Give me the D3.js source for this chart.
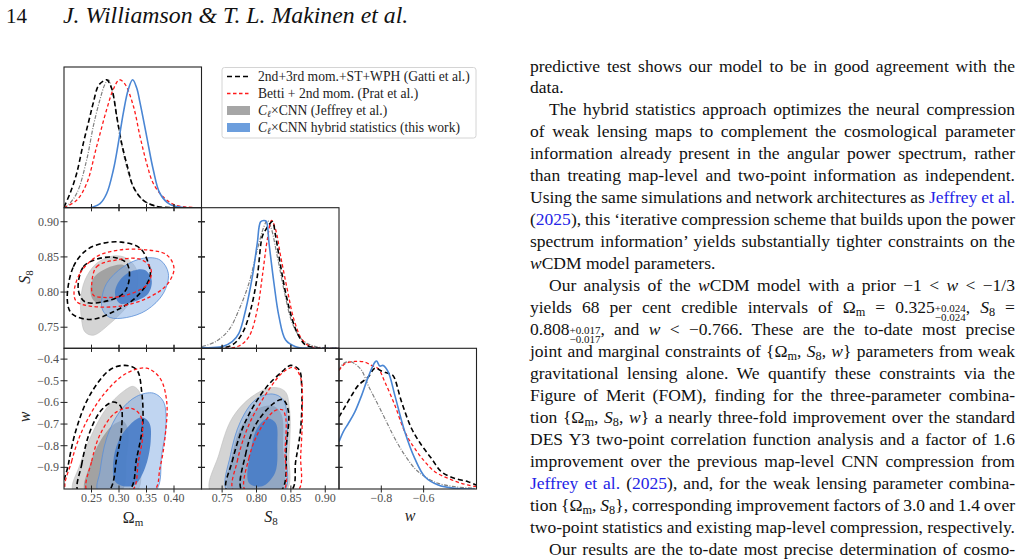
<!DOCTYPE html>
<html>
<head>
<meta charset="utf-8">
<script src="https://cdn.jsdelivr.net/npm/d3@7"></script>
<style>
body { margin: 0; background: #fff; width: 1023px; height: 560px; overflow: hidden; position: relative; font-family: "Liberation Serif", serif; }
.ln { position: absolute; display: inline-block; white-space: nowrap; font-size: 16.5px; line-height: 22px; color: #111; }
.ref { color: #2424e6; }
.sb { font-size: 0.7em; vertical-align: -0.25em; line-height: 0; }
.st { display: inline-block; vertical-align: -8px; line-height: 8.6px; font-size: 11px; text-align: left; }
.st span { display: block; }
.bl { display: inline-block; width: 0; height: 0; }
</style>
</head>
<body>
<script>
/* ranges and ticks of the three parameters */
const omDomain = [0.2, 0.45]
const s8Domain = [0.72, 0.92]
const wDomain = [-1.0, -0.35]
const omTicks = [0.25, 0.30, 0.35, 0.40]
const s8Ticks = [0.75, 0.80, 0.85, 0.90]
const wTicksY = [-0.4, -0.5, -0.6, -0.7, -0.8, -0.9]
const wTicksX = [-0.8, -0.6]

/* 1D marginals: [value, density / peak] */
const omGatti = [[0.2,0.005],[0.2109,0.111],[0.223,0.268],[0.2352,0.505],[0.2473,0.716],[0.2533,0.821],[0.2624,0.953],[0.2715,0.99],[0.2776,1.0],[0.2867,0.932],[0.2958,0.716],[0.3048,0.505],[0.317,0.295],[0.3261,0.163],[0.3442,0.058],[0.3685,0.011],[0.3988,0.0],[0.45,0]]
const omPrat = [[0.2,0],[0.223,0.058],[0.2412,0.189],[0.2594,0.479],[0.2776,0.768],[0.2897,0.926],[0.3006,1.0],[0.3109,0.966],[0.3261,0.795],[0.3382,0.558],[0.3503,0.347],[0.3624,0.189],[0.3806,0.084],[0.3988,0.026],[0.423,0.005],[0.45,0]]
const omJeffrey = [[0.2,0.003],[0.2048,0.011],[0.223,0.111],[0.2412,0.374],[0.2533,0.637],[0.2655,0.847],[0.2745,0.966],[0.2806,1.0],[0.2897,0.874],[0.3018,0.558],[0.3139,0.321],[0.3261,0.163],[0.3442,0.058],[0.3745,0.005],[0.45,0]]
const omHybrid = [[0.2,0],[0.2473,0],[0.2655,0.032],[0.2776,0.111],[0.2897,0.295],[0.2988,0.505],[0.3079,0.742],[0.317,0.926],[0.3248,1.0],[0.3321,0.937],[0.3382,0.821],[0.3503,0.558],[0.3624,0.295],[0.3745,0.111],[0.3927,0.026],[0.423,0],[0.45,0]]

const s8Gatti = [[0.72,0],[0.7404,0],[0.7647,0.026],[0.7793,0.117],[0.7914,0.3],[0.8011,0.561],[0.8084,0.875],[0.8133,0.927],[0.8182,0.966],[0.823,0.992],[0.8279,0.875],[0.8352,0.64],[0.8425,0.431],[0.8522,0.222],[0.8619,0.091],[0.8716,0.026],[0.891,0],[0.92,0]]
const s8Prat = [[0.72,0],[0.755,0],[0.7744,0.018],[0.789,0.091],[0.8011,0.3],[0.8084,0.561],[0.8157,0.849],[0.822,1.0],[0.8279,0.927],[0.8352,0.718],[0.8449,0.457],[0.8546,0.222],[0.8667,0.065],[0.8789,0.013],[0.8959,0],[0.92,0]]
const s8Jeffrey = [[0.721,0.013],[0.7404,0.052],[0.7598,0.144],[0.7744,0.3],[0.789,0.509],[0.8011,0.77],[0.8109,0.953],[0.8157,1.0],[0.8206,0.953],[0.8303,0.718],[0.84,0.457],[0.8522,0.196],[0.8667,0.065],[0.8862,0.013],[0.92,0]]
const s8Hybrid = [[0.721,0.005],[0.7501,0.013],[0.7647,0.052],[0.7744,0.117],[0.7841,0.298],[0.7939,0.559],[0.8011,0.82],[0.806,0.99],[0.8109,1.0],[0.8143,0.992],[0.8182,0.822],[0.8254,0.509],[0.8327,0.248],[0.8424,0.065],[0.857,0.013],[0.8765,0],[0.92,0]]

const wGatti = [[-1.0,0.564],[-0.972,0.642],[-0.94,0.732],[-0.909,0.81],[-0.862,0.875],[-0.83,0.945],[-0.799,0.922],[-0.759,0.899],[-0.744,0.886],[-0.704,0.68],[-0.657,0.473],[-0.61,0.343],[-0.563,0.239],[-0.516,0.135],[-0.453,0.083],[-0.39,0.057],[-0.351,0.031]]
const wPrat = [[-1,0.927],[-0.972,0.979],[-0.925,0.997],[-0.877,0.992],[-0.846,0.966],[-0.814,0.94],[-0.783,0.836],[-0.736,0.655],[-0.689,0.447],[-0.642,0.317],[-0.594,0.213],[-0.547,0.135],[-0.484,0.083],[-0.421,0.044],[-0.351,0.018]]
const wJeffrey = [[-1,0.927],[-0.98,0.979],[-0.948,0.997],[-0.925,0.979],[-0.893,0.927],[-0.862,0.81],[-0.822,0.68],[-0.783,0.551],[-0.736,0.395],[-0.689,0.265],[-0.642,0.161],[-0.594,0.096],[-0.531,0.044],[-0.453,0.018],[-0.351,0.005]]
const wHybrid = [[-1.0,0.369],[-0.98,0.447],[-0.956,0.512],[-0.925,0.603],[-0.893,0.732],[-0.862,0.875],[-0.83,0.992],[-0.822,1.0],[-0.807,0.961],[-0.791,0.966],[-0.767,0.914],[-0.736,0.732],[-0.689,0.447],[-0.642,0.239],[-0.594,0.096],[-0.531,0.031],[-0.453,0.005],[-0.358,0]]

/* 2D contours (95% and 68%): [x, y] */
const omS8Jeffrey95 = [[0.2303,0.7886],[0.2382,0.8171],[0.2594,0.841],[0.2897,0.8514],[0.314,0.8481],[0.3321,0.8314],[0.3321,0.8029],[0.314,0.779],[0.2836,0.7552],[0.2533,0.7386],[0.2382,0.7433],[0.2321,0.76]]
const omS8Jeffrey68 = [[0.2485,0.7981],[0.2533,0.8195],[0.2776,0.8338],[0.3079,0.8386],[0.32,0.829],[0.314,0.8029],[0.2836,0.7862],[0.2564,0.7862]]
const omS8Hybrid95 = [[0.2685,0.7886],[0.2776,0.8124],[0.3079,0.836],[0.3442,0.8481],[0.3745,0.8457],[0.3897,0.8267],[0.3806,0.7981],[0.3503,0.7743],[0.314,0.7638],[0.2836,0.7638],[0.2703,0.7743]]
const omS8Hybrid68 = [[0.2927,0.7981],[0.3018,0.8171],[0.326,0.8305],[0.3473,0.8314],[0.3594,0.8171],[0.3533,0.7981],[0.326,0.7862],[0.3018,0.7838]]
const omS8Gatti95 = [[0.206,0.7886],[0.217,0.836],[0.2412,0.86],[0.2715,0.8695],[0.3048,0.871],[0.3382,0.8624],[0.3533,0.841],[0.3564,0.8219],[0.3321,0.7933],[0.2897,0.7719],[0.2473,0.761],[0.214,0.7695]]
const omS8Gatti68 = [[0.226,0.8029],[0.2352,0.836],[0.2594,0.8467],[0.2897,0.8495],[0.314,0.841],[0.3188,0.8195],[0.3079,0.7981],[0.2715,0.7862],[0.2382,0.7862]]
const omS8Prat95 = [[0.2182,0.7981],[0.2291,0.8267],[0.2594,0.8505],[0.3018,0.86],[0.3503,0.86],[0.3867,0.8529],[0.4,0.8338],[0.3867,0.81],[0.3503,0.791],[0.3018,0.78],[0.2473,0.78],[0.223,0.7862]]
const omS8Prat68 = [[0.2503,0.81],[0.2594,0.836],[0.2958,0.8457],[0.3382,0.8467],[0.3576,0.8338],[0.3533,0.8124],[0.314,0.7957],[0.2715,0.7924],[0.2533,0.7957]]

const omWJeffrey95 = [[0.217,-1.01],[0.2291,-0.887],[0.2503,-0.749],[0.2776,-0.626],[0.3079,-0.549],[0.3261,-0.526],[0.3382,-0.557],[0.3412,-0.672],[0.3382,-0.841],[0.3321,-1.01]]
const omWJeffrey68 = [[0.2382,-1.01],[0.2473,-0.887],[0.2655,-0.78],[0.2897,-0.703],[0.3079,-0.687],[0.317,-0.734],[0.3139,-0.857],[0.3048,-1.01]]
const omWHybrid95 = [[0.2624,-1.01],[0.2655,-0.918],[0.2776,-0.764],[0.3018,-0.641],[0.3321,-0.572],[0.3624,-0.557],[0.3806,-0.595],[0.3855,-0.703],[0.3776,-0.841],[0.3655,-1.01]]
const omWHybrid68 = [[0.2927,-0.964],[0.2897,-0.872],[0.2988,-0.78],[0.32,-0.703],[0.3412,-0.669],[0.3552,-0.695],[0.3576,-0.78],[0.3473,-0.903],[0.3291,-0.98],[0.3079,-0.987]]
const omWGatti95 = [[0.2018,-1.01],[0.2079,-0.887],[0.223,-0.718],[0.2473,-0.565],[0.2836,-0.449],[0.3109,-0.429],[0.3321,-0.449],[0.3412,-0.549],[0.343,-0.703],[0.3321,-0.857],[0.317,-1.01]]
const omWGatti68 = [[0.2261,-1.01],[0.2321,-0.887],[0.2473,-0.734],[0.2685,-0.634],[0.2897,-0.598],[0.303,-0.618],[0.3048,-0.718],[0.2958,-0.857],[0.2806,-1.01]]
const omWPrat95 = [[0.2048,-1.01],[0.2139,-0.872],[0.2352,-0.718],[0.2715,-0.565],[0.3139,-0.465],[0.3503,-0.442],[0.3745,-0.488],[0.3867,-0.595],[0.3836,-0.764],[0.3745,-0.903],[0.3624,-1.01]]
const omWPrat68 = [[0.2424,-1.01],[0.2503,-0.872],[0.2655,-0.749],[0.2927,-0.649],[0.32,-0.626],[0.3382,-0.657],[0.343,-0.749],[0.3352,-0.872],[0.323,-1.01]]

const s8WJeffrey95 = [[0.7331,-1.01],[0.7453,-0.841],[0.7647,-0.672],[0.7939,-0.572],[0.823,-0.531],[0.8415,-0.549],[0.8483,-0.641],[0.8473,-0.841],[0.8424,-1.01]]
const s8WJeffrey68 = [[0.7598,-1.01],[0.7647,-0.841],[0.7793,-0.703],[0.8036,-0.626],[0.8254,-0.618],[0.8366,-0.657],[0.8386,-0.795],[0.8351,-1.01]]
const s8WHybrid95 = [[0.7574,-1.01],[0.7623,-0.841],[0.7769,-0.687],[0.7987,-0.587],[0.823,-0.561],[0.8386,-0.587],[0.8449,-0.687],[0.8434,-0.841],[0.84,-1.01]]
const s8WHybrid68 = [[0.789,-0.972],[0.7914,-0.826],[0.8011,-0.718],[0.8157,-0.675],[0.8279,-0.695],[0.8303,-0.795],[0.8269,-0.926],[0.8084,-0.987]]
const s8WGatti95 = [[0.7574,-1.01],[0.7647,-0.872],[0.7841,-0.687],[0.8133,-0.534],[0.8376,-0.457],[0.8497,-0.429],[0.8619,-0.449],[0.8658,-0.534],[0.8643,-0.718],[0.857,-0.872],[0.8497,-1.01]]
const s8WGatti68 = [[0.7793,-1.01],[0.7841,-0.841],[0.7987,-0.703],[0.8254,-0.603],[0.8386,-0.587],[0.8464,-0.641],[0.8435,-0.795],[0.8352,-1.01]]
const s8WPrat95 = [[0.7671,-1.01],[0.772,-0.872],[0.789,-0.703],[0.8181,-0.541],[0.84,-0.457],[0.8546,-0.439],[0.8643,-0.488],[0.8667,-0.641],[0.8643,-0.841],[0.8595,-1.01]]
const s8WPrat68 = [[0.7841,-1.01],[0.789,-0.857],[0.8036,-0.734],[0.8254,-0.641],[0.8376,-0.634],[0.8425,-0.672],[0.8415,-0.826],[0.8386,-1.01]]

const legendLabels = [
  "2nd+3rd mom.+ST+WPH (Gatti et al.)",
  "Betti + 2nd mom. (Prat et al.)",
  "×CNN (Jeffrey et al.)",
  "×CNN hybrid statistics (this work)"
]

/* ---------- page ---------- */
const svg = d3.select("body").append("svg")
  .attr("width", 1023).attr("height", 560)
  .style("position", "absolute").style("left", 0).style("top", 0)
  .style("font-family", "'Liberation Serif', serif")

svg.append("text").attr("x", 6).attr("y", 22.7).attr("font-size", 21).attr("fill", "#111").text("14")
svg.append("text").attr("x", 63).attr("y", 22.7).attr("font-size", 23.8).attr("font-style", "italic").attr("fill", "#111")
  .text("J. Williamson & T. L. Makinen et al.")

/* ---------- corner plot ---------- */
const colX = [64, 201.5, 339, 476.5]
const rowY = [67, 207.7, 348.3, 489]

const xScales = [
  d3.scaleLinear().domain(omDomain).range([colX[0], colX[1]]),
  d3.scaleLinear().domain(s8Domain).range([colX[1], colX[2]]),
  d3.scaleLinear().domain(wDomain).range([colX[2], colX[3]]),
]
const yScales = [
  null,
  d3.scaleLinear().domain(s8Domain).range([rowY[2], rowY[1]]),
  d3.scaleLinear().domain(wDomain).range([rowY[3], rowY[2]]),
]
const xTicks = [omTicks, s8Ticks, wTicksX]
const yTicks = [null, s8Ticks, wTicksY]
const fmt2 = d3.format(".2f"), fmt1 = d3.format(".1f")
const yFmt = [null, fmt2, fmt1]
const xFmt = [fmt2, fmt2, fmt1]

const styles = {
  gatti: { stroke: "#000", width: 1.6, dash: "5,3" },
  prat: { stroke: "#ff1a1a", width: 1.3, dash: "3.5,2.5" },
  jeffrey: { stroke: "#808080", width: 1.2, dash: "4,1.5,1,1.5" },
  hybrid: { stroke: "#4a86d4", width: 1.6, dash: null },
}

const marginals = [
  { gatti: omGatti, prat: omPrat, jeffrey: omJeffrey, hybrid: omHybrid },
  { gatti: s8Gatti, prat: s8Prat, jeffrey: s8Jeffrey, hybrid: s8Hybrid },
  { gatti: wGatti, prat: wPrat, jeffrey: wJeffrey, hybrid: wHybrid },
]
const contours2d = [
  { r: 1, c: 0, jeffrey: [omS8Jeffrey95, omS8Jeffrey68], hybrid: [omS8Hybrid95, omS8Hybrid68], gatti: [omS8Gatti95, omS8Gatti68], prat: [omS8Prat95, omS8Prat68] },
  { r: 2, c: 0, jeffrey: [omWJeffrey95, omWJeffrey68], hybrid: [omWHybrid95, omWHybrid68], gatti: [omWGatti95, omWGatti68], prat: [omWPrat95, omWPrat68] },
  { r: 2, c: 1, jeffrey: [s8WJeffrey95, s8WJeffrey68], hybrid: [s8WHybrid95, s8WHybrid68], gatti: [s8WGatti95, s8WGatti68], prat: [s8WPrat95, s8WPrat68] },
]

const defs = svg.append("defs")
const clipId = (r, c) => `clip-${r}-${c}`
for (let r = 0; r < 3; r++) {
  for (let c = 0; c <= r; c++) {
    defs.append("clipPath").attr("id", clipId(r, c)).append("rect")
      .attr("x", colX[c]).attr("y", rowY[r])
      .attr("width", colX[c + 1] - colX[c]).attr("height", rowY[r + 1] - rowY[r])
  }
}

/* 1D panels */
marginals.forEach(function (m, i) {
  const xs = xScales[i]
  const ys = d3.scaleLinear().domain([0, 1.1]).range([rowY[i + 1], rowY[i]])
  const g = svg.append("g").attr("clip-path", `url(#${clipId(i, i)})`)
  const line = d3.line().x(d => xs(d[0])).y(d => ys(d[1])).curve(d3.curveCatmullRom)
  ;["jeffrey", "prat", "gatti", "hybrid"].forEach(function (k) {
    const s = styles[k]
    g.append("path").datum(m[k]).attr("d", line)
      .attr("fill", "none").attr("stroke", s.stroke).attr("stroke-width", s.width)
      .attr("stroke-dasharray", s.dash)
  })
})

/* 2D panels */
contours2d.forEach(function (p) {
  const xs = xScales[p.c], ys = yScales[p.r]
  const g = svg.append("g").attr("clip-path", `url(#${clipId(p.r, p.c)})`)
  const shape = d3.line().x(d => xs(d[0])).y(d => ys(d[1])).curve(d3.curveCatmullRomClosed.alpha(0.5))

  g.append("path").datum(p.jeffrey[0]).attr("d", shape).attr("fill", "#d4d4d4").attr("stroke", "#bdbdbd").attr("stroke-width", 0.6)
  g.append("path").datum(p.jeffrey[1]).attr("d", shape).attr("fill", "#a2a2a2").attr("stroke", "none")
  g.append("path").datum(p.hybrid[0]).attr("d", shape).attr("fill", "#82abe4").attr("fill-opacity", 0.5).attr("stroke", "#5b8fd8").attr("stroke-width", 0.8)
  g.append("path").datum(p.hybrid[1]).attr("d", shape).attr("fill", "#4a7ec8").attr("fill-opacity", 0.92).attr("stroke", "none")
  ;["gatti", "prat"].forEach(function (k) {
    const s = styles[k]
    p[k].forEach(function (c) {
      g.append("path").datum(c).attr("d", shape).attr("fill", "none")
        .attr("stroke", s.stroke).attr("stroke-width", s.width).attr("stroke-dasharray", s.dash)
    })
  })
})

/* frames and ticks */
const tickLen = 3.5
const tickCol = "#222"
const labCol = "#505050"
for (let r = 0; r < 3; r++) {
  for (let c = 0; c <= r; c++) {
    const x0 = colX[c], x1 = colX[c + 1], y0 = rowY[r], y1 = rowY[r + 1]
    const g = svg.append("g")
    g.append("rect").attr("x", x0).attr("y", y0).attr("width", x1 - x0).attr("height", y1 - y0)
      .attr("fill", "none").attr("stroke", "#222").attr("stroke-width", 1.1)
    const xs = xScales[c]
    const xEdges = r === c ? [y1] : [y0, y1]
    xEdges.forEach(function (ey) {
      g.selectAll(null).data(xTicks[c]).join("line")
        .attr("x1", d => xs(d)).attr("x2", d => xs(d))
        .attr("y1", ey - tickLen).attr("y2", ey + tickLen)
        .attr("stroke", tickCol).attr("stroke-width", 1)
    })
    if (r > 0) {
      const ys = yScales[r]
      const yEdges = r === c ? [x0] : [x0, x1]
      yEdges.forEach(function (ex) {
        g.selectAll(null).data(yTicks[r]).join("line")
          .attr("y1", d => ys(d)).attr("y2", d => ys(d))
          .attr("x1", ex - tickLen).attr("x2", ex + tickLen)
          .attr("stroke", tickCol).attr("stroke-width", 1)
      })
    }
    if (r === 2) {
      g.selectAll(null).data(xTicks[c]).join("text")
        .attr("x", d => xs(d)).attr("y", y1 + 13)
        .attr("text-anchor", "middle").attr("font-size", 12).attr("fill", labCol)
        .text(d => xFmt[c](d))
    }
    if (c === 0 && r > 0) {
      const ys = yScales[r]
      g.selectAll(null).data(yTicks[r]).join("text")
        .attr("x", x0 - 5).attr("y", d => ys(d) + 4)
        .attr("text-anchor", "end").attr("font-size", 12).attr("fill", labCol)
        .text(d => yFmt[r](d))
    }
  }
}

/* axis titles */
const om = svg.append("text").attr("x", 133).attr("y", 523).attr("text-anchor", "middle").attr("font-size", 16).attr("fill", "#222")
om.append("tspan").text("Ω")
om.append("tspan").attr("font-size", 11).attr("dy", 3).text("m")
const s8x = svg.append("text").attr("x", 271).attr("y", 522).attr("text-anchor", "middle").attr("font-size", 16).attr("fill", "#222")
s8x.append("tspan").attr("font-style", "italic").text("S")
s8x.append("tspan").attr("font-size", 11).attr("dy", 3).text("8")
svg.append("text").attr("x", 410).attr("y", 521).attr("text-anchor", "middle").attr("font-size", 16).attr("font-style", "italic").attr("fill", "#222").text("w")
const s8y = svg.append("text").attr("transform", "translate(30,277) rotate(-90)").attr("text-anchor", "middle").attr("font-size", 16).attr("fill", "#222")
s8y.append("tspan").attr("font-style", "italic").text("S")
s8y.append("tspan").attr("font-size", 11).attr("dy", 3).text("8")
svg.append("text").attr("transform", "translate(30,417) rotate(-90)").attr("text-anchor", "middle").attr("font-size", 16).attr("font-style", "italic").attr("fill", "#222").text("w")

/* legend */
const lg = svg.append("g")
lg.append("rect").attr("x", 222).attr("y", 67.5).attr("width", 254).attr("height", 70.5).attr("rx", 2.5)
  .attr("fill", "#fff").attr("stroke", "#d4d4d4").attr("stroke-width", 1)
const legY = d3.scalePoint().domain(d3.range(4)).range([76.5, 127.5])
legendLabels.forEach(function (lab, i) {
  const y = legY(i)
  if (i < 2) {
    const s = i === 0 ? styles.gatti : styles.prat
    lg.append("line").attr("x1", 227).attr("x2", 250).attr("y1", y).attr("y2", y)
      .attr("stroke", s.stroke).attr("stroke-width", s.width).attr("stroke-dasharray", s.dash)
  } else {
    lg.append("rect").attr("x", 227).attr("y", y - 4.5).attr("width", 23).attr("height", 9)
      .attr("fill", i === 2 ? "#a6a6a6" : "#6c9edd")
  }
  const t = lg.append("text").attr("x", 258).attr("y", y + 4).attr("font-size", 13.6).attr("fill", "#222")
  if (i >= 2) {
    t.append("tspan").attr("font-style", "italic").text("C")
    t.append("tspan").attr("font-style", "italic").attr("font-size", 9.5).attr("dy", 2.5).text("ℓ")
    t.append("tspan").attr("dy", -2.5).text(lab)
  } else {
    t.text(lab)
  }
})

/* ---------- text column ---------- */
const OM = 'Ω<span class="sb">m</span>'
const S8 = '<i>S</i><span class="sb">8</span>'
const W = '<i>w</i>'
const stack = (a, b) => `<span class="st"><span>${a}</span><span>${b}</span></span>`
const textLines = [
  { h: "predictive test shows our model to be in good agreement with the", j: true },
  { h: "data.", j: false },
  { h: "The hybrid statistics approach optimizes the neural compression", j: true, ind: true },
  { h: "of weak lensing maps to complement the cosmological parameter", j: true },
  { h: "information already present in the angular power spectrum, rather", j: true },
  { h: "than treating map-level and two-point information as independent.", j: true },
  { h: 'Using the same simulations and network architectures as <span class="ref">Jeffrey et al.</span>', j: true },
  { h: '(<span class="ref">2025</span>), this ‘iterative compression scheme that builds upon the power', j: true },
  { h: "spectrum information’ yields substantially tighter constraints on the", j: true },
  { h: W + "CDM model parameters.", j: false },
  { h: "Our analysis of the " + W + "CDM model with a prior −1 &lt; " + W + " &lt; −1/3", j: true, ind: true },
  { h: "yields 68 per cent credible intervals of " + OM + " = 0.325" + stack("+0.024", "−0.024") + ", " + S8 + " =", j: true },
  { h: "0.808" + stack("+0.017", "−0.017") + ", and " + W + " &lt; −0.766. These are the to-date most precise", j: true },
  { h: "joint and marginal constraints of {" + OM + ", " + S8 + ", " + W + "} parameters from weak", j: true },
  { h: "gravitational lensing alone. We quantify these constraints via the", j: true },
  { h: "Figure of Merit (FOM), finding for the three-parameter combina-", j: true },
  { h: "tion {" + OM + ", " + S8 + ", " + W + "} a nearly three-fold improvement over the standard", j: true },
  { h: "DES Y3 two-point correlation function analysis and a factor of 1.6", j: true },
  { h: "improvement over the previous map-level CNN compression from", j: true },
  { h: '<span class="ref">Jeffrey et al.</span> (<span class="ref">2025</span>), and, for the weak lensing parameter combina-', j: true },
  { h: "tion {" + OM + ", " + S8 + "}, corresponding improvement factors of 3.0 and 1.4 over", j: true },
  { h: "two-point statistics and existing map-level compression, respectively.", j: true },
  { h: "Our results are the to-date most precise determination of cosmo-", j: true, ind: true },
]
const textLeft = 530, textRight = 1015, indent = 19
const baseY = d3.scaleLinear().domain([0, 22]).range([71.5, 554.5])

const lines = d3.select("body").selectAll("div.ln").data(textLines).join("div")
  .attr("class", "ln")
  .style("left", d => (textLeft + (d.ind ? indent : 0)) + "px")
  .style("top", (d, i) => baseY(i) + "px")
  .html(d => '<span class="bl"></span>' + d.h)

/* pick the font size so that the tightest line (21) fills the column */
const nat = lines.nodes()[21].getBoundingClientRect().width
const fs = 16.5 * (textRight - textLeft) / nat * 1.004
lines.style("font-size", fs + "px")

lines.each(function (d, i) {
  const mark = this.querySelector(".bl").getBoundingClientRect().top
  this.style.top = (baseY(i) + (baseY(i) - mark)) + "px"
  if (!d.j) return
  const target = textRight - textLeft - (d.ind ? indent : 0)
  const w = this.getBoundingClientRect().width
  const n = (this.textContent.match(/ /g) || []).length
  if (n > 0) this.style.wordSpacing = ((target - w) / n) + "px"
})
</script>
</body>
</html>
